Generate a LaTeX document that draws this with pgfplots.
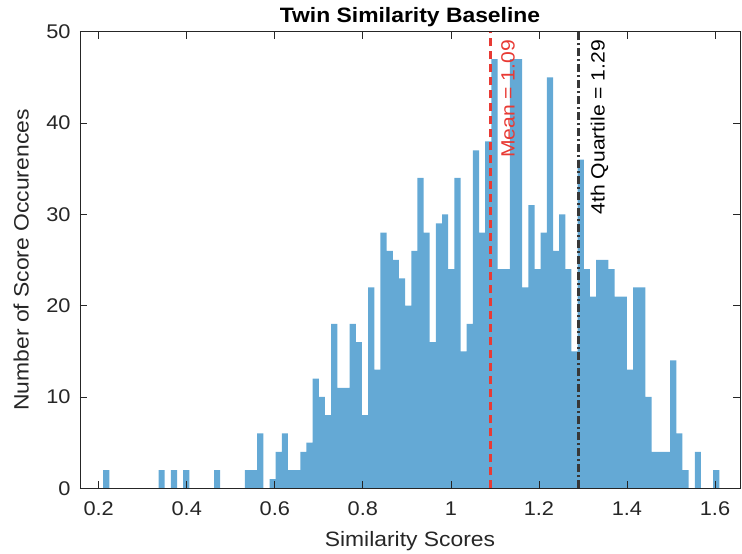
\documentclass[border=0pt]{standalone}
\usepackage{fontspec}
\setmainfont{Liberation Sans}[FakeStretch=1.1]
\usepackage{pgfplots}
\pgfplotsset{compat=1.18}
\usepackage{pgfplotstable}

\definecolor{barblue}{RGB}{100,169,213}
\definecolor{meanred}{RGB}{232,58,52}
\definecolor{qgray}{RGB}{55,55,55}
\definecolor{axgray}{RGB}{38,38,38}

\pgfplotstableread{
x y
0.210 2
0.224 0
0.238 0
0.252 0
0.266 0
0.280 0
0.294 0
0.308 0
0.322 0
0.336 2
0.350 0
0.364 2
0.378 0
0.392 2
0.406 0
0.420 0
0.434 0
0.448 0
0.462 2
0.476 0
0.490 0
0.504 0
0.518 0
0.532 2
0.546 2
0.560 6
0.574 0
0.588 1
0.602 4
0.616 6
0.630 2
0.644 2
0.658 4
0.672 5
0.686 12
0.700 10
0.714 8
0.728 18
0.742 11
0.756 11
0.770 18
0.784 16
0.798 8
0.812 22
0.826 13
0.840 28
0.854 26
0.868 25
0.882 23
0.896 20
0.910 26
0.924 34
0.938 28
0.952 16
0.966 29
0.980 30
0.994 24
1.008 34
1.022 15
1.036 18
1.050 37
1.064 28
1.078 38
1.092 47
1.106 24
1.120 24
1.134 47
1.148 47
1.162 22
1.176 31
1.190 24
1.204 28
1.218 45
1.232 26
1.246 30
1.260 24
1.274 15
1.288 36
1.302 24
1.316 21
1.330 25
1.344 25
1.358 24
1.372 21
1.386 21
1.400 13
1.414 22
1.428 22
1.442 10
1.456 4
1.470 4
1.484 4
1.498 14
1.512 6
1.526 2
1.540 0
1.554 4
1.568 0
1.582 0
1.596 2
1.610 2
}\histdata

\pgfplotstableread{
x y
1.09 0
1.09 50
}\meanline

\pgfplotstableread{
x y
1.29 0
1.29 50
}\quartline

\begin{document}
\begin{tikzpicture}
\begin{axis}[
  scale only axis,
  width=660bp, height=456.6bp,
  xmin=0.1575, xmax=1.6568,
  ymin=0, ymax=50,
  xtick={0.2,0.4,0.6,0.8,1.0,1.2,1.4,1.6},
  xticklabels={0.2,0.4,0.6,0.8,1,1.2,1.4,1.6},
  ytick={0,10,20,30,40,50},
  yticklabels={0,10,20,30,40,50},
  tick align=inside,
  major tick length=7bp,
  tick style={axgray, line width=0.7bp},
  axis line style={axgray, line width=0.7bp},
  ticklabel style={font=\fontsize{19.8bp}{23bp}\selectfont, text=axgray},
  xticklabel style={yshift=-10bp},
  yticklabel style={xshift=-6bp},
  /pgf/number format/assume math mode=true,
  axis on top,
  clip=true,
]
\addplot[fill=barblue, draw=none, const plot mark left] table[x=x, y=y] {\histdata} \closedcycle;
\addplot[meanred, line width=2.4bp, dash pattern=on 8bp off 5bp] table[x=x, y=y] {\meanline};
\addplot[qgray, line width=2.4bp, dash pattern=on 8bp off 3bp on 2bp off 3bp] table[x=x, y=y] {\quartline};
\coordinate (mtop) at (axis cs:1.09,50);
\coordinate (qtop) at (axis cs:1.29,50);
\end{axis}
\node[rotate=90, anchor=north east, inner sep=0, text=meanred, font=\fontsize{19.2bp}{22bp}\selectfont] at ([xshift=10.5bp, yshift=-8bp]mtop) {Mean = 1.09};
\node[rotate=90, anchor=north east, inner sep=0, text=black, font=\fontsize{19.2bp}{22bp}\selectfont] at ([xshift=12bp, yshift=-8bp]qtop) {4th Quartile = 1.29};
\node[anchor=base, inner sep=0, font=\bfseries\fontsize{20.8bp}{24bp}\selectfont] at ([yshift=9bp]current axis.north) {Twin Similarity Baseline};
\node[anchor=north, inner sep=0, text=axgray, font=\fontsize{20.8bp}{24bp}\selectfont] at ([yshift=-43bp]current axis.south) {Similarity Scores};
\node[rotate=90, anchor=south, inner sep=0, text=axgray, font=\fontsize{20.8bp}{24bp}\selectfont] at ([xshift=-51bp]current axis.west) {Number of Score Occurences};
\pgfresetboundingbox
\path[use as bounding box] ([xshift=-80bp, yshift=-65.7bp]current axis.south west) rectangle ([xshift=2bp, yshift=31.7bp]current axis.north east);
\end{tikzpicture}
\end{document}
